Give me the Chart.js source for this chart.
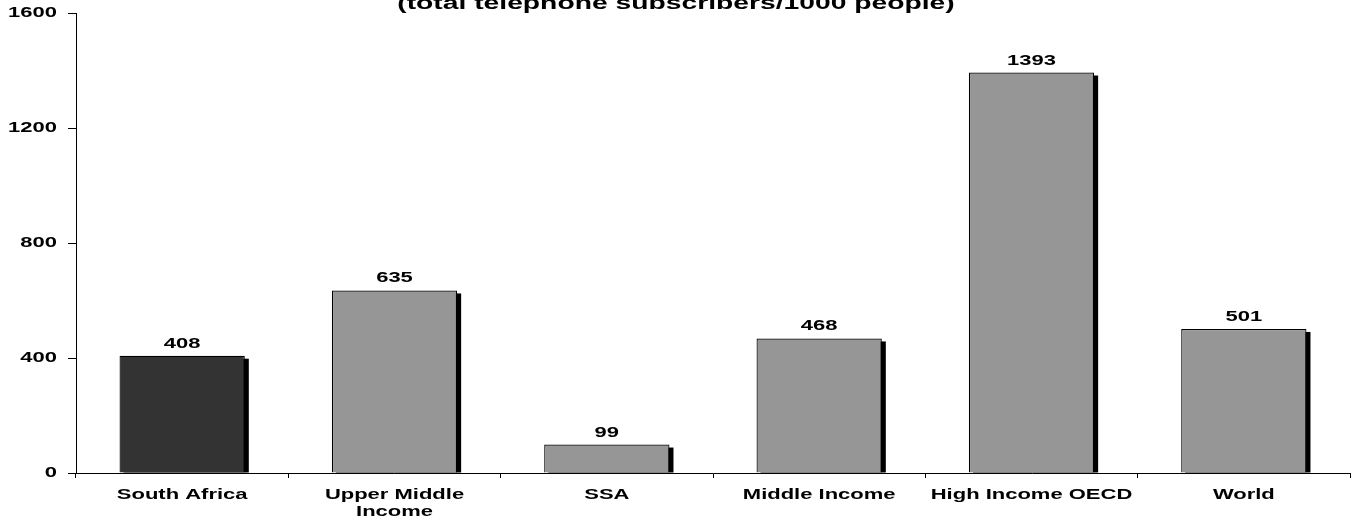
<!DOCTYPE html>
<html>
<head>
<meta charset="utf-8">
<script src="https://cdn.jsdelivr.net/npm/chart.js@4/dist/chart.umd.min.js"></script>
<style>
    html, body { margin: 0; padding: 0; background: #fff; }
    #wrap { width: 1359px; height: 520px; position: relative; }
</style>
</head>
<body>
<div id="wrap"><canvas id="teleChart"></canvas></div>
<script>
// Chart data
const categories = ['South Africa', ['Upper Middle', 'Income'], 'SSA', 'Middle Income', 'High Income OECD', 'World'];
const subscribers = [408, 635, 99, 468, 1393, 501];
const barColors = ['#333333', '#969696', '#969696', '#969696', '#969696', '#969696'];
const yTicks = [0, 400, 800, 1200, 1600];
const titleText = '(total telephone subscribers/1000 people)';

const FONT = '"Liberation Sans", Arial, sans-serif';
const STRETCH = 1.57; // the original text is drawn wide

// draw text stretched horizontally
function wideText(ctx, text, x, y, align) {
    ctx.save();
    ctx.translate(x, y);
    ctx.scale(STRETCH, 1);
    ctx.textAlign = align;
    ctx.fillText(text, 0, 0);
    ctx.restore();
}

// Black drop shadow behind each bar
const barShadow = {
    id: 'barShadow',
    beforeDatasetsDraw(chart) {
        const ctx = chart.ctx;
        const meta = chart.getDatasetMeta(0);
        ctx.save();
        ctx.fillStyle = '#000';
        meta.data.forEach(bar => {
            const left = bar.x - bar.width / 2 + 4;
            const top = bar.y + 3;
            ctx.fillRect(left, top, bar.width, bar.base - top);
        });
        ctx.restore();
    }
};

// Value labels, axis labels, title
const textLayer = {
    id: 'textLayer',
    afterDraw(chart) {
        const ctx = chart.ctx;
        const meta = chart.getDatasetMeta(0);
        const xs = chart.scales.x;
        const ys = chart.scales.y;
        ctx.save();
        ctx.fillStyle = '#000';
        ctx.textBaseline = 'alphabetic';

        ctx.font = 'bold 14px ' + FONT;
        meta.data.forEach((bar, i) => {
            wideText(ctx, String(subscribers[i]), bar.x, bar.y - 8, 'center');
        });

        // x labels
        categories.forEach((label, i) => {
            const lines = Array.isArray(label) ? label : [label];
            const cx = xs.getPixelForTick(i);
            lines.forEach((line, j) => {
                wideText(ctx, line, cx, xs.top + 26 + j * 17, 'center');
            });
        });

        // y labels
        ctx.textBaseline = 'middle';
        yTicks.forEach(v => {
            wideText(ctx, String(v), ys.left + 57, ys.getPixelForValue(v), 'right');
        });

        ctx.textBaseline = 'alphabetic';
        ctx.font = 'bold 18px ' + FONT;
        wideText(ctx, titleText, 676, 9, 'center');
        ctx.restore();
    }
};

new Chart(document.getElementById('teleChart'), {
    type: 'bar',
    data: {
        labels: categories,
        datasets: [{
            data: subscribers,
            backgroundColor: barColors,
            borderColor: '#000',
            borderWidth: 1.2,
            categoryPercentage: 1,
            barPercentage: 0.59
        }]
    },
    options: {
        responsive: true,
        maintainAspectRatio: false,
        animation: false,
        layout: { padding: { top: 13, right: 9, left: 0, bottom: 0 } },
        plugins: {
            legend: { display: false },
            tooltip: { enabled: false }
        },
        scales: {
            x: {
                grid: { drawOnChartArea: false, drawTicks: true, tickLength: 5, color: '#000', offset: true },
                border: { display: true, color: '#000', width: 1 },
                ticks: { display: false, autoSkip: false },
                afterFit(scale) { scale.height = 47; }
            },
            y: {
                min: 0,
                max: 1600,
                afterBuildTicks(scale) { scale.ticks = yTicks.map(v => ({ value: v })); },
                grid: { drawOnChartArea: false, drawTicks: true, tickLength: 8, color: '#000' },
                border: { display: true, color: '#000', width: 1 },
                ticks: { display: false },
                afterFit(scale) { scale.width = 76; }
            }
        }
    },
    plugins: [barShadow, textLayer]
});
</script>
</body>
</html>
